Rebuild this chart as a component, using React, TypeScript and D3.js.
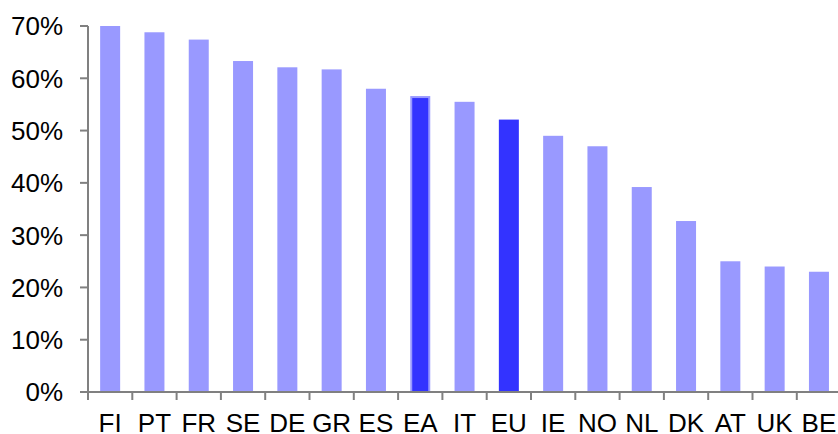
import React from "react";
import * as d3 from "d3";

const categories = ["FI","PT","FR","SE","DE","GR","ES","EA","IT","EU","IE","NO","NL","DK","AT","UK","BE"];
const values = [70.0,68.8,67.4,63.3,62.1,61.7,58.0,56.6,55.5,52.1,49.0,47.0,39.2,32.7,25.0,24.0,23.0];
const highlight = ["EA","EU"];
const yTicks = [0,10,20,30,40,50,60,70];

const W = 838, H = 434;
const left = 88, top = 26, bottom = 392, bandW = 44.3;

export default function App() {
  const x = d3.scaleBand<string>().domain(categories).range([left, left + bandW * categories.length]).paddingInner(0).paddingOuter(0);
  const y = d3.scaleLinear().domain([0, 70]).range([bottom, top]);
  const bw = 20;
  const font = "'Liberation Sans', Arial, sans-serif";
  return (
    <svg width={W} height={H} style={{ position: "absolute", left: 0, top: 0 }}>
      <rect width={W} height={H} fill="#fff" />
      {categories.map((c, i) => {
        const x0 = (x(c) as number) + (x.bandwidth() - bw) / 2;
        const yv = y(values[i]);
        if (c === "EA") {
          return (
            <rect key={c} x={x0 + 1} y={yv + 1} width={bw - 2} height={bottom - yv - 1}
              fill="#3333ff" stroke="#9999ff" strokeWidth={2} />
          );
        }
        return (
          <rect key={c} x={x0} y={yv} width={bw} height={bottom - yv}
            fill={highlight.includes(c) ? "#3333ff" : "#9999ff"} />
        );
      })}
      {/* y axis */}
      <line x1={left} x2={left} y1={top} y2={bottom} stroke="#808080" strokeWidth={2} />
      {yTicks.map(t => (
        <g key={t}>
          <line x1={80} x2={left} y1={y(t)} y2={y(t)} stroke="#808080" strokeWidth={2} />
          <text x={63} y={y(t)} dy="0.36em" textAnchor="end" fontFamily={font} fontSize={26} fill="#000">{t}%</text>
        </g>
      ))}
      {/* x axis */}
      <line x1={left - 8} x2={W} y1={bottom} y2={bottom} stroke="#808080" strokeWidth={2} />
      {categories.map((c, i) => (
        <g key={c}>
          {i > 0 && (
            <line x1={x(c) as number} x2={x(c) as number} y1={bottom} y2={bottom + 8} stroke="#808080" strokeWidth={2} />
          )}
          <text x={(x(c) as number) + x.bandwidth() / 2} y={432} textAnchor="middle" fontFamily={font} fontSize={26} fill="#000">{c}</text>
        </g>
      ))}
      <line x1={left} x2={left} y1={bottom} y2={bottom + 8} stroke="#808080" strokeWidth={2} />
    </svg>
  );
}
